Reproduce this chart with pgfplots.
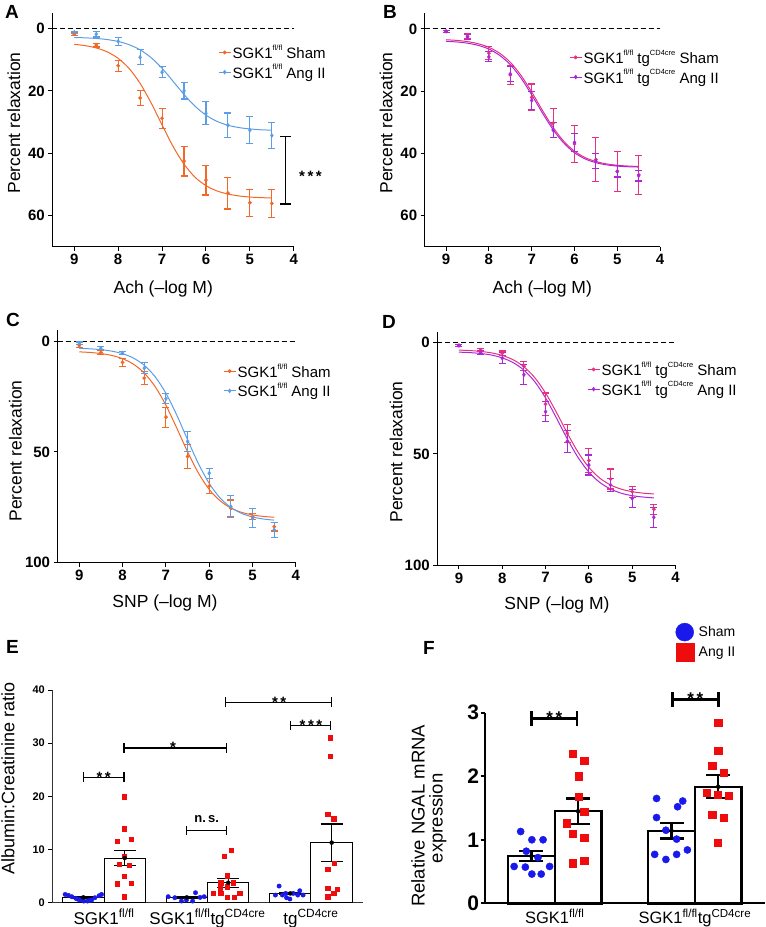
\documentclass[border=0pt]{standalone}
\usepackage{pgfplots}
\pgfplotsset{compat=1.18}
\usepackage{pgfplotstable}
\usepackage{fontspec}
\setmainfont{Liberation Sans}
\definecolor{cOr}{RGB}{242,104,38}
\definecolor{cBl}{RGB}{92,158,230}
\definecolor{cPk}{RGB}{232,48,128}
\definecolor{cPu}{RGB}{170,40,215}
\definecolor{dBl}{RGB}{25,25,235}
\definecolor{dRd}{RGB}{238,12,12}
\newcommand{\sg}{SGK1\textsuperscript{fl/fl}}
\newcommand{\tg}{tg\textsuperscript{CD4cre}}
\newcommand{\lsup}[1]{\raisebox{0.55em}{\fontsize{7.5}{7.5}\selectfont #1}}
\newcommand{\lsg}{SGK1\lsup{fl/fl}}
\newcommand{\ltg}{tg\lsup{CD4cre}}

% ---------- Panel A ----------
\pgfplotstableread{
x y e
9 1.8 0.5
8.5 5.3 0.6
8 11.9 1.8
7.5 22.3 2.3
7 28.8 3.2
6.5 42.5 4.8
6 48.6 4.8
5.5 52.8 5.1
5 55.9 4.4
4.5 56.1 4.6
}\dAs
\pgfplotstableread{
x y e
9 1.2 0.4
8.5 1.8 0.9
8 4.1 1.2
7.5 9.2 2.4
7 14.0 1.8
6.5 20.0 2.6
6 27.2 3.7
5.5 31.0 3.9
5 32.6 4.3
4.5 34.3 4.1
}\dAa
\pgfplotstableread{
x y
9 5.05
8.75 5.48
8.5 6.21
8.25 7.47
8 9.55
7.75 12.82
7.5 17.59
7.25 23.84
7 30.94
6.75 37.81
6.5 43.5
6.25 47.7
6 50.4
5.75 52.1
5.5 53.1
5.25 53.7
5 54.06
4.75 54.25
4.5 54.36
}\fAs
\pgfplotstableread{
x y
9 2.85
8.75 2.97
8.5 3.17
8.25 3.52
8 4.14
7.75 5.17
7.5 6.82
7.25 9.32
7 12.73
6.75 16.9
6.5 21.15
6.25 24.9
6 27.78
5.75 29.77
5.5 31.02
5.25 31.77
5 32.2
4.75 32.47
4.5 32.6
}\fAa
% ---------- Panel B ----------
\pgfplotstableread{
x y e
9 0.8 0.4
8.5 2.4 0.8
8 7.8 2.0
7.5 14.8 3.0
7 22.0 4.3
6.5 30.3 4.6
6 37.0 6.0
5.5 42.0 7.0
5 45.8 6.5
4.5 46.9 6.2
}\dBs
\pgfplotstableread{
x y e
9 0.8 0.3
8.5 2.6 0.7
8 9.0 1.6
7.5 14.5 2.5
7 23.0 3.0
6.5 32.5 2.5
6 36.5 3.0
5.5 42.5 2.5
5 45.8 1.8
4.5 47.2 1.7
}\dBa
\pgfplotstableread{
x y
9 3.49
8.75 3.71
8.5 4.1
8.25 4.78
8 5.93
7.75 7.81
7.5 10.73
7.25 14.94
7 20.29
6.75 26.16
6.5 31.67
6.25 36.13
6 39.3
5.75 41.37
5.5 42.64
5.25 43.39
5 43.83
4.75 44.08
4.5 44.22
}\fBs
\pgfplotstableread{
x y
9 4.0
8.75 4.2
8.5 4.6
8.25 5.3
8 6.5
7.75 8.5
7.5 11.5
7.25 15.8
7 21.2
6.75 27.0
6.5 32.4
6.25 36.7
6 39.8
5.75 41.8
5.5 43.0
5.25 43.7
5 44.1
4.75 44.3
4.5 44.4
}\fBa
% ---------- Panel C ----------
\pgfplotstableread{
x y e
9 2.1 0.6
8.5 5.1 0.8
8 9.6 1.8
7.5 16.7 3.0
7 34.3 4.5
6.5 52.1 5.3
6 65.4 3.4
5.5 75.5 3.8
5 79.2 1.5
4.5 83.7 2.0
}\dCs
\pgfplotstableread{
x y e
9 0.9 0.5
8.5 3.2 0.6
8 5.4 0.7
7.5 12.2 2.4
7 26.0 2.2
6.5 45.3 4.5
6 59.6 2.3
5.5 74.7 5.0
5 80.0 4.3
4.5 85.2 3.4
}\dCa
\pgfplotstableread{
x y
9 4.86
8.75 5.14
8.5 5.63
8.25 6.48
8 7.95
7.75 10.42
7.5 14.42
7.25 20.5
7 28.93
6.75 39.21
6.5 49.95
6.25 59.53
6 66.95
5.75 72.06
5.5 75.32
5.25 77.29
5 78.45
4.75 79.12
4.5 79.5
}\fCs
\pgfplotstableread{
x y
9 3.28
8.75 3.49
8.5 3.87
8.25 4.54
8 5.69
7.75 7.66
7.5 10.92
7.25 16.06
7 23.55
6.75 33.37
6.5 44.51
6.25 55.3
6 64.23
5.75 70.78
5.5 75.08
5.25 77.76
5 79.36
4.75 80.28
4.5 80.8
}\fCa
% ---------- Panel D ----------
\pgfplotstableread{
x y e
9 1.2 0.3
8.5 3.2 0.8
8 4.7 1.0
7.5 10.5 2.0
7 27.6 5.0
6.5 40.7 4.0
6 53.0 5.5
5.5 61.3 4.5
5 67.0 2.5
4.5 74.9 2.2
}\dDs
\pgfplotstableread{
x y e
9 1.2 0.3
8.5 4.3 1.0
8 6.9 2.5
7.5 14.4 4.5
7 31.0 4.5
6.5 44.4 4.8
6 55.0 4.5
5.5 64.0 3.0
5 70.0 4.0
4.5 78.5 4.5
}\dDa
\pgfplotstableread{
x y
9 3.28
8.75 3.49
8.5 3.87
8.25 4.53
8 5.68
7.75 7.62
7.5 10.79
7.25 15.67
7 22.61
6.75 31.26
6.5 40.62
6.25 49.23
6 56.08
5.75 60.87
5.5 63.98
5.25 65.88
5 67.0
4.75 67.65
4.5 68.02
}\fDs
\pgfplotstableread{
x y
9 4.2
8.75 4.4
8.5 4.8
8.25 5.5
8 6.8
7.75 8.9
7.5 12.3
7.25 17.5
7 24.8
6.75 33.8
6.5 43.2
6.25 51.6
6 58.2
5.75 62.8
5.5 65.8
5.25 67.7
5 68.8
4.75 69.4
4.5 69.8
}\fDa

\pgfplotsset{
  relax/.style={
    scale only axis, clip=false,
    axis lines=left, axis line style={-, line width=1pt, black},
    tick align=outside, major tick length=4pt,
    tick style={black, line width=1pt},
    xmin=-9.5, xmax=-4,
    xtick={-9,-8,-7,-6,-5,-4}, xticklabels={9,8,7,6,5,4},
    ticklabel style={font=\fontsize{15}{15}\selectfont\bfseries},
    legend cell align=left,
    legend image code/.code={\draw[mark repeat=2,mark phase=2,##1] plot coordinates {(0pt,0pt) (6pt,0pt) (12pt,0pt)};},
    legend style={draw=none, fill=none, anchor=north west, inner sep=0pt, row sep=1.5pt,
       font=\fontsize{15}{17}\selectfont, nodes={inner sep=1.5pt}},
  },
  dat/.style={only marks, forget plot,
    /pgfplots/error bars/y dir=both, /pgfplots/error bars/y explicit,
    /pgfplots/error bars/error bar style={line width=1.1pt},
    /pgfplots/error bars/error mark options={rotate=90, mark size=3.5pt, line width=1.1pt}},
  fit/.style={line width=1pt, smooth, no marks, forget plot},
  brk/.style={black, line width=1.3pt, forget plot},
  brkF/.style={black, line width=2.6pt, forget plot},
}

\begin{document}
\begin{tikzpicture}
\useasboundingbox (0,0) rectangle (766pt,-927pt);

% ================= A =================
\begin{axis}[relax, at={(52.3pt,-246.7pt)}, anchor=south west, width=241.5pt, height=233.7pt,
  ymin=-70, ymax=5, ytick={0,-20,-40,-60}, yticklabels={0,20,40,60},
  legend style={at={(rel axis cs:0.686,0.871)}}]
\addlegendimage{cOr, line width=1pt, mark=*, mark size=1.4pt}
\addlegendentry{\lsg{} Sham}
\addlegendimage{cBl, line width=1pt, mark=diamond*, mark size=1.6pt}
\addlegendentry{\lsg{} Ang II}
\addplot[black, line width=1pt, dash pattern=on 5pt off 3pt, forget plot] coordinates {(-9.5,0) (-4,0)};
\addplot[cOr, fit] table[x expr=-\thisrow{x}, y expr=-\thisrow{y}] {\fAs};
\addplot[cBl, fit] table[x expr=-\thisrow{x}, y expr=-\thisrow{y}] {\fAa};
\addplot[cOr, mark=*, mark size=1.7pt, dat] table[x expr=-\thisrow{x}, y expr=-\thisrow{y}, y error=e] {\dAs};
\addplot[cBl, mark=diamond*, mark size=2pt, dat] table[x expr=-\thisrow{x}, y expr=-\thisrow{y}, y error=e] {\dAa};
\addplot[black, line width=1.6pt, forget plot] coordinates {(-4.19,-34.6) (-4.19,-56.3)};
\addplot[black, line width=1.6pt, forget plot] coordinates {(-4.31,-34.6) (-4.07,-34.6)};
\addplot[black, line width=1.6pt, forget plot] coordinates {(-4.31,-56.3) (-4.07,-56.3)};
\node[font=\bfseries\fontsize{15}{15}\selectfont, anchor=center] at (axis cs:-3.62,-47.5) {*\,*\,*};
\end{axis}

% ================= B =================
\begin{axis}[relax, at={(424.7pt,-246.7pt)}, anchor=south west, width=235.4pt, height=233.4pt,
  ymin=-70, ymax=5, ytick={0,-20,-40,-60}, yticklabels={0,20,40,60},
  legend style={at={(rel axis cs:0.613,0.851)}}]
\addlegendimage{cPk, line width=1pt, mark=*, mark size=1.4pt}
\addlegendentry{\lsg{} \ltg{} Sham}
\addlegendimage{cPu, line width=1pt, mark=diamond*, mark size=1.6pt}
\addlegendentry{\lsg{} \ltg{} Ang II}
\addplot[black, line width=1pt, dash pattern=on 5pt off 3pt, forget plot] coordinates {(-9.5,0) (-4,0)};
\addplot[cPk, fit] table[x expr=-\thisrow{x}, y expr=-\thisrow{y}] {\fBs};
\addplot[cPu, fit] table[x expr=-\thisrow{x}, y expr=-\thisrow{y}] {\fBa};
\addplot[cPk, mark=*, mark size=1.7pt, dat] table[x expr=-\thisrow{x}, y expr=-\thisrow{y}, y error=e] {\dBs};
\addplot[cPu, mark=diamond*, mark size=2pt, dat] table[x expr=-\thisrow{x}, y expr=-\thisrow{y}, y error=e] {\dBa};
\end{axis}

% ================= C =================
\begin{axis}[relax, at={(57.6pt,-562.7pt)}, anchor=south west, width=238.3pt, height=232.7pt,
  ymin=-100, ymax=5, ytick={0,-50,-100}, yticklabels={0,50,100},
  legend style={at={(rel axis cs:0.694,0.863)}}]
\addlegendimage{cOr, line width=1pt, mark=*, mark size=1.4pt}
\addlegendentry{\lsg{} Sham}
\addlegendimage{cBl, line width=1pt, mark=diamond*, mark size=1.6pt}
\addlegendentry{\lsg{} Ang II}
\addplot[black, line width=1pt, dash pattern=on 5pt off 3pt, forget plot] coordinates {(-9.5,0) (-4,0)};
\addplot[cOr, fit] table[x expr=-\thisrow{x}, y expr=-\thisrow{y}] {\fCs};
\addplot[cBl, fit] table[x expr=-\thisrow{x}, y expr=-\thisrow{y}] {\fCa};
\addplot[cOr, mark=*, mark size=1.7pt, dat] table[x expr=-\thisrow{x}, y expr=-\thisrow{y}, y error=e] {\dCs};
\addplot[cBl, mark=diamond*, mark size=2pt, dat] table[x expr=-\thisrow{x}, y expr=-\thisrow{y}, y error=e] {\dCa};
\end{axis}

% ================= D =================
\begin{axis}[relax, at={(437.3pt,-565pt)}, anchor=south west, width=238.2pt, height=233.3pt,
  ymin=-100, ymax=5, ytick={0,-50,-100}, yticklabels={0,50,100},
  legend style={at={(rel axis cs:0.628,0.878)}}]
\addlegendimage{cPk, line width=1pt, mark=*, mark size=1.4pt}
\addlegendentry{\lsg{} \ltg{} Sham}
\addlegendimage{cPu, line width=1pt, mark=diamond*, mark size=1.6pt}
\addlegendentry{\lsg{} \ltg{} Ang II}
\addplot[black, line width=1pt, dash pattern=on 5pt off 3pt, forget plot] coordinates {(-9.5,0) (-4,0)};
\addplot[cPk, fit] table[x expr=-\thisrow{x}, y expr=-\thisrow{y}] {\fDs};
\addplot[cPu, fit] table[x expr=-\thisrow{x}, y expr=-\thisrow{y}] {\fDa};
\addplot[cPk, mark=*, mark size=1.7pt, dat] table[x expr=-\thisrow{x}, y expr=-\thisrow{y}, y error=e] {\dDs};
\addplot[cPu, mark=diamond*, mark size=2pt, dat] table[x expr=-\thisrow{x}, y expr=-\thisrow{y}, y error=e] {\dDa};
\end{axis}

% ================= E =================
\begin{axis}[scale only axis, clip=false, at={(52.3pt,-902.7pt)}, anchor=south west,
  width=310.4pt, height=212.7pt,
  xmin=0, xmax=7.5, ymin=0, ymax=40,
  axis lines=left, axis line style={-, line width=1.2pt, black!80},
  tick align=outside, major tick length=4pt, tick style={black, line width=1pt},
  ytick={0,10,20,30,40}, yticklabels={0,10,20,30,40},
  yticklabel style={font=\fontsize{11}{11}\selectfont\bfseries},
  xtick={1.25,3.75,6.25}, xticklabels={\sg,\sg\tg,\tg},
  xtick style={draw=none},
  xticklabel style={font=\fontsize{17}{17}\selectfont, anchor=base, yshift=-17.5pt}]
\addplot[ybar, bar width=1, bar shift=0pt, draw=black, fill=white, line width=1pt, forget plot]
  coordinates {(0.75,1.0) (1.75,8.4) (3.25,1.0) (4.25,3.75) (5.75,1.75) (6.75,11.3)};
\addplot[only marks, mark=*, dBl, mark size=2.2pt, forget plot] coordinates {
 (0.31,1.56)(0.39,1.38)(0.47,1.13)(0.57,0.81)(0.62,0.65)(0.67,0.5)(0.76,0.31)(0.85,0.31)(0.9,0.4)(0.95,0.5)(1.03,0.94)(1.13,1.31)(1.19,1.56)
 (2.80,1.13)(2.96,0.94)(3.12,0.31)(3.24,0.5)(3.39,0.31)(3.46,1.88)(3.57,1.0)(3.67,1.13)
 (5.48,3.13)(5.39,1.44)(5.56,1.44)(5.64,1.75)(5.74,0.69)(5.82,1.75)(5.98,2.25)(5.93,1.44)(6.06,1.44)(5.66,0.94)};
\addplot[only marks, mark=square*, dRd, mark size=2.2pt, forget plot] coordinates {
 (1.74,19.9)(1.74,13.9)(1.57,11.6)(1.90,11.9)(1.74,8.8)(1.62,7.2)(1.86,7.0)(1.74,5.0)(1.57,3.6)(1.90,3.7)(1.74,1.1)
 (4.15,8.75)(4.32,9.9)(4.23,5.1)(4.07,3.75)(4.37,3.75)(3.89,1.75)(4.07,1.75)(4.53,1.75)(4.23,1.0)(4.39,1.0)(4.23,3.0)(4.05,2.6)
 (6.72,31.0)(6.72,27.6)(6.65,16.7)(6.80,15.8)(6.65,6.3)(6.81,7.4)(6.65,2.7)(6.88,2.5)(6.65,1.1)(6.80,1.75)};
\addplot[black, only marks, mark=none, forget plot,
  /pgfplots/error bars/y dir=both, /pgfplots/error bars/y explicit,
  /pgfplots/error bars/error bar style={line width=1.3pt, black},
  /pgfplots/error bars/error mark options={rotate=90, mark size=11pt, line width=1.3pt, black}]
  coordinates {(0.75,1.0) +- (0,0.12) (1.75,8.4) +- (0,1.45) (3.25,1.0) +- (0,0.15)
   (4.25,3.75) +- (0,0.85) (5.75,1.75) +- (0,0.2) (6.75,11.3) +- (0,3.5)};
% brackets
\addplot[brk] coordinates {(0.75,23.6) (1.73,23.6)};
\addplot[brk] coordinates {(0.75,22.7) (0.75,24.5)};
\addplot[brk] coordinates {(1.73,22.7) (1.73,24.5)};
\addplot[brk] coordinates {(1.73,29.1) (4.21,29.1)};
\addplot[brk] coordinates {(1.73,28.2) (1.73,30.0)};
\addplot[brk] coordinates {(4.21,28.2) (4.21,30.0)};
\addplot[brk] coordinates {(3.24,13.6) (4.21,13.6)};
\addplot[brk] coordinates {(3.24,12.7) (3.24,14.5)};
\addplot[brk] coordinates {(4.21,12.7) (4.21,14.5)};
\addplot[brk] coordinates {(4.18,37.7) (6.75,37.7)};
\addplot[brk] coordinates {(4.18,36.8) (4.18,38.6)};
\addplot[brk] coordinates {(6.75,36.8) (6.75,38.6)};
\addplot[brk] coordinates {(5.76,33.3) (6.73,33.3)};
\addplot[brk] coordinates {(5.76,32.4) (5.76,34.2)};
\addplot[brk] coordinates {(6.73,32.4) (6.73,34.2)};
\node[font=\bfseries\fontsize{15}{15}\selectfont, anchor=base, inner sep=0pt, yshift=-5pt] at (axis cs:1.24,23.6) {*\,*};
\node[font=\bfseries\fontsize{15}{15}\selectfont, anchor=base, inner sep=0pt, yshift=-5pt] at (axis cs:2.92,29.1) {*};
\node[font=\bfseries\fontsize{13}{13}\selectfont, anchor=base, inner sep=0pt, yshift=8pt] at (axis cs:3.73,13.6) {n.\,s.};
\node[font=\bfseries\fontsize{15}{15}\selectfont, anchor=base, inner sep=0pt, yshift=-5pt] at (axis cs:5.48,37.7) {*\,*};
\node[font=\bfseries\fontsize{15}{15}\selectfont, anchor=base, inner sep=0pt, yshift=-5pt] at (axis cs:6.25,33.3) {*\,*\,*};
\end{axis}

% ================= F =================
\begin{axis}[scale only axis, clip=false, at={(484.7pt,-903.3pt)}, anchor=south west,
  width=280.2pt, height=190.6pt,
  xmin=0, xmax=6, ymin=0, ymax=3,
  axis lines=left, axis line style={-, line width=2.2pt, black},
  tick align=outside, major tick length=4pt, tick style={black, line width=2pt},
  ytick={0,1,2,3}, yticklabels={0,1,2,3},
  yticklabel style={font=\fontsize{21}{21}\selectfont\bfseries, inner sep=1.5pt},
  xtick={1.5,4.5}, xticklabels={\sg,\sg\tg},
  xtick style={draw=none},
  xticklabel style={font=\fontsize{16.5}{16.5}\selectfont, anchor=base, yshift=-16.2pt},
  legend cell align=left,
  legend style={at={(rel axis cs:0.681,1.471)}, anchor=north west, draw=none, fill=none,
    inner sep=0pt, row sep=2pt, font=\fontsize{14}{16}\selectfont, nodes={inner sep=2pt}},
  /tikz/every odd column/.append style={column sep=3pt}]
\addlegendimage{only marks, mark=*, dBl, mark size=9pt}
\addlegendentry{Sham}
\addlegendimage{only marks, mark=square*, dRd, mark size=9pt}
\addlegendentry{Ang II}
\addplot[ybar, bar width=1, bar shift=0pt, draw=black, fill=white, line width=2.4pt, forget plot]
  coordinates {(1,0.745) (2,1.45) (4,1.14) (5,1.835)};
\addplot[only marks, mark=*, dBl, mark size=3.6pt, forget plot] coordinates {
 (0.77,1.13)(1.01,1.0)(1.25,1.0)(0.89,0.82)(1.14,0.72)(0.63,0.58)(0.87,0.57)(1.39,0.58)(1.01,0.46)(1.21,0.46)
 (3.68,1.65)(4.24,1.61)(4.13,1.52)(3.68,1.35)(3.88,1.15)(4.11,1.01)(3.64,0.77)(3.88,0.69)(4.11,0.77)(4.34,0.84)};
\addplot[only marks, mark=square*, dRd, mark size=3.6pt, forget plot] coordinates {
 (1.89,2.35)(2.13,2.24)(2.01,2.0)(2.01,1.68)(2.13,1.44)(1.76,1.26)(1.89,1.1)(2.13,1.03)(1.89,0.63)(2.13,0.67)
 (5.0,2.84)(5.0,2.4)(4.87,2.16)(5.11,2.06)(4.75,1.74)(4.99,1.71)(5.23,1.69)(4.87,1.4)(5.11,1.35)(4.99,0.95)};
\addplot[black, only marks, mark=none, forget plot,
  /pgfplots/error bars/y dir=both, /pgfplots/error bars/y explicit,
  /pgfplots/error bars/error bar style={line width=2.2pt, black},
  /pgfplots/error bars/error mark options={rotate=90, mark size=12pt, line width=2.2pt, black}]
  coordinates {(1,0.745) +- (0,0.075) (2,1.45) +- (0,0.2) (4,1.14) +- (0,0.12) (5,1.835) +- (0,0.18)};
\addplot[brkF] coordinates {(1.0,2.91) (1.98,2.91)};
\addplot[brkF] coordinates {(1.0,2.79) (1.0,3.03)};
\addplot[brkF] coordinates {(1.98,2.79) (1.98,3.03)};
\addplot[brkF] coordinates {(4.02,3.21) (5.0,3.21)};
\addplot[brkF] coordinates {(4.02,3.09) (4.02,3.33)};
\addplot[brkF] coordinates {(5.0,3.09) (5.0,3.33)};
\node[font=\bfseries\fontsize{17}{17}\selectfont, anchor=base, inner sep=0pt, yshift=-5pt] at (axis cs:1.49,2.91) {*\,*};
\node[font=\bfseries\fontsize{17}{17}\selectfont, anchor=base, inner sep=0pt, yshift=-5pt] at (axis cs:4.51,3.21) {*\,*};
\end{axis}

% ================= labels =================
\begin{scope}[every node/.style={inner sep=0pt}]
\node[font=\bfseries\fontsize{19}{19}\selectfont, anchor=base west] at (5pt,-18.5pt) {A};
\node[font=\bfseries\fontsize{19}{19}\selectfont, anchor=base west] at (383pt,-18.5pt) {B};
\node[font=\bfseries\fontsize{19}{19}\selectfont, anchor=base west] at (6pt,-326pt) {C};
\node[font=\bfseries\fontsize{19}{19}\selectfont, anchor=base west] at (382pt,-328pt) {D};
\node[font=\bfseries\fontsize{19}{19}\selectfont, anchor=base west] at (6pt,-653pt) {E};
\node[font=\bfseries\fontsize{19}{19}\selectfont, anchor=base west] at (423pt,-654pt) {F};

\node[font=\fontsize{17.5}{17.5}\selectfont, rotate=90, anchor=base] at (20pt,-123pt) {Percent relaxation};
\node[font=\fontsize{17.5}{17.5}\selectfont, rotate=90, anchor=base] at (392.4pt,-123pt) {Percent relaxation};
\node[font=\fontsize{17.5}{17.5}\selectfont, rotate=90, anchor=base] at (21.7pt,-451pt) {Percent relaxation};
\node[font=\fontsize{17.5}{17.5}\selectfont, rotate=90, anchor=base] at (402.3pt,-452pt) {Percent relaxation};
\node[font=\fontsize{18}{18}\selectfont, rotate=90, anchor=base] at (14.3pt,-778.3pt) {Albumin:Creatinine ratio};
\node[font=\fontsize{18.5}{18.5}\selectfont, rotate=90, anchor=base] at (424.7pt,-815.8pt) {Relative NGAL mRNA};
\node[font=\fontsize{18.5}{18.5}\selectfont, rotate=90, anchor=base] at (442.7pt,-818.3pt) {expression};

\node[font=\fontsize{17.5}{17.5}\selectfont, anchor=base] at (163.3pt,-293.3pt) {Ach (–log M)};
\node[font=\fontsize{17.5}{17.5}\selectfont, anchor=base] at (542.3pt,-293.3pt) {Ach (–log M)};
\node[font=\fontsize{17.5}{17.5}\selectfont, anchor=base] at (165pt,-607pt) {SNP (–log M)};
\node[font=\fontsize{17.5}{17.5}\selectfont, anchor=base] at (557pt,-609pt) {SNP (–log M)};
\end{scope}
\end{tikzpicture}
\end{document}
